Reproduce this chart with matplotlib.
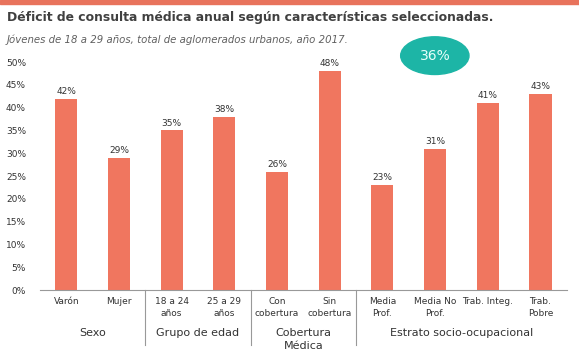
import matplotlib.pyplot as plt
from matplotlib.patches import Ellipse, Rectangle

categorias = ["Varón", "Mujer", "18 a 24\naños", "25 a 29\naños", "Con\ncobertura",
              "Sin\ncobertura", "Media\nProf.", "Media No\nProf.", "Trab. Integ.", "Trab.\nPobre"]
valores = [42, 29, 35, 38, 26, 48, 23, 31, 41, 43]
grupos = ["Sexo", "Grupo de edad", "Cobertura\nMédica", "Estrato socio-ocupacional"]
grupo_rangos = [(0, 1), (2, 3), (4, 5), (6, 9)]
total = "36%"

color_bar = "#F0765F"
plt.rcParams['font.family'] = ['DejaVu Sans']

fig = plt.figure(figsize=(5.79, 3.59), dpi=100)
ax = fig.add_axes([0.069, 0.192, 0.91, 0.635])

x = range(len(valores))
ax.bar(x, valores, width=0.42, color=color_bar)
for i, v in enumerate(valores):
    ax.text(i, v + 0.6, f"{v}%", ha="center", va="bottom", fontsize=6.5, color="#333333")

ax.set_xlim(-0.5, len(valores) - 0.5)
ax.set_ylim(0, 50)
ax.set_yticks(range(0, 51, 5))
ax.set_yticklabels([f"{t}%" for t in range(0, 51, 5)], fontsize=6.5, color="#333333")
ax.set_xticks(list(x))
ax.set_xticklabels(categorias, fontsize=6.5, color="#333333", linespacing=1.4)
ax.tick_params(axis="both", length=0, pad=5)
ax.tick_params(axis="y", pad=10)
for s in ["top", "right", "left"]:
    ax.spines[s].set_visible(False)
ax.spines["bottom"].set_color("#999999")

# separators and group labels
trans = ax.get_xaxis_transform()
for a, b in grupo_rangos[1:]:
    ax.plot([a - 0.5, a - 0.5], [0, -0.24], transform=trans, color="#999999",
            lw=0.8, clip_on=False)
for g, (a, b) in zip(grupos, grupo_rangos):
    ax.text((a + b) / 2, -0.165, g, transform=trans, ha="center", va="top",
            fontsize=8, color="#333333", linespacing=1.45)

# title area
fig.patches.append(Rectangle((0, 0.99), 1, 0.01, transform=fig.transFigure,
                             color="#E8735C", zorder=5))
fig.text(0.012, 0.968, "Déficit de consulta médica anual según características seleccionadas.",
         fontsize=8.9, fontweight="bold", color="#404040", va="top")
fig.text(0.012, 0.905, "Jóvenes de 18 a 29 años, total de aglomerados urbanos, año 2017.",
         fontsize=7.3, style="italic", color="#606060", va="top")

fig.patches.append(Ellipse((0.751, 0.845), 0.118, 0.105, transform=fig.transFigure,
                           color="#1DB5A6", zorder=5))
fig.text(0.751, 0.845, total, ha="center", va="center", fontsize=10,
         color="#E8FFFB", zorder=6)

fig.savefig("out.png", dpi=100)
